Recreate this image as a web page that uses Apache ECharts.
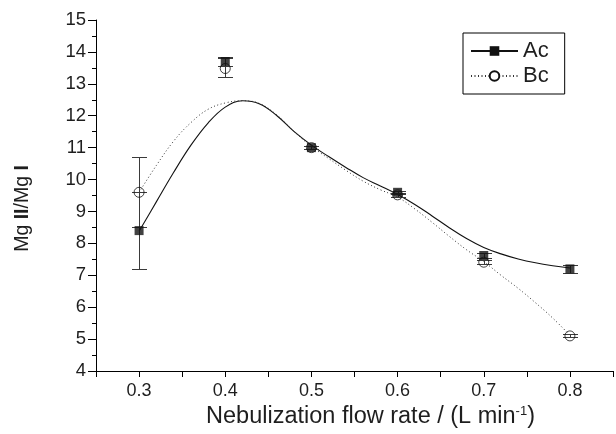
<!DOCTYPE html>
<html>
<head>
<meta charset="utf-8">
<script src="https://cdn.jsdelivr.net/npm/echarts@6/dist/echarts.min.js"></script>
<style>
html,body{margin:0;padding:0;background:#fff;}
#chart{width:616px;height:434px;}
</style>
</head>
<body>
<div id="chart"></div>
<script>
// ---- data ----
const flowRates = [0.3, 0.4, 0.5, 0.6, 0.7, 0.8];
const acValues = [8.4, 13.7, 11.0, 9.6, 7.62, 7.2];
const acLow    = [7.2, 13.55, 10.95, 9.55, 7.55, 7.07];
const acHigh   = [9.6, 13.85, 11.05, 9.65, 7.7, 7.33];
const bcValues = [9.6, 13.48, 11.0, 9.52, 7.41, 5.1];
const bcLow    = [8.5, 13.2, 10.95, 9.46, 7.34, 5.05];
const bcHigh   = [10.7, 13.8, 11.05, 9.58, 7.48, 5.15];

// fitted curves
const curveX   = [0.30, 0.32, 0.34, 0.36, 0.38, 0.40, 0.42, 0.44, 0.46, 0.48, 0.50, 0.52, 0.54, 0.56, 0.58, 0.60, 0.62, 0.64, 0.66, 0.68, 0.70, 0.72, 0.74, 0.76, 0.78, 0.80];
const acCurveY = [8.38, 9.30, 10.22, 11.07, 11.77, 12.27, 12.47, 12.37, 12.00, 11.50, 11.08, 10.72, 10.38, 10.06, 9.80, 9.53, 9.22, 8.86, 8.49, 8.15, 7.87, 7.67, 7.51, 7.39, 7.30, 7.23];
const bcCurveY = [9.60, 10.44, 11.20, 11.78, 12.20, 12.40, 12.47, 12.38, 12.02, 11.50, 11.04, 10.66, 10.29, 9.95, 9.68, 9.45, 9.08, 8.66, 8.22, 7.80, 7.43, 7.00, 6.59, 6.14, 5.66, 5.12];

const xMin = 0.25, xMax = 0.85, xStep = 0.05;
const yMin = 4, yMax = 15, yStep = 1;
const xTitle = 'Nebulization flow rate / (L min';
const yTitleParts = ['Mg ', 'II', '/Mg ', 'I'];
const seriesNames = ['Ac', 'Bc'];

// ---- build ----
const FONT = '"Liberation Sans", Arial, Helvetica, sans-serif';
const INK = '#1e1e1e';
const zip = (xs, ys) => xs.map((x, i) => [x, ys[i]]);
const errData = (lo, hi) => flowRates.map((x, i) => [x, lo[i], hi[i]]);

function errRender(params, api) {
  const x = api.value(0);
  const pLo = api.coord([x, api.value(1)]);
  const pHi = api.coord([x, api.value(2)]);
  const cx = Math.round(pLo[0]) + 0.5;
  const yl = Math.round(pLo[1]) + 0.5, yh = Math.round(pHi[1]) + 0.5;
  const hw = 7.5;
  const st = { stroke: '#3a3a3a', lineWidth: 1 };
  return {
    type: 'group',
    children: [
      { type: 'line', shape: { x1: cx, y1: yl, x2: cx, y2: yh }, style: st },
      { type: 'line', shape: { x1: cx - hw, y1: yl, x2: cx + hw, y2: yl }, style: st },
      { type: 'line', shape: { x1: cx - hw, y1: yh, x2: cx + hw, y2: yh }, style: st }
    ]
  };
}

const chart = echarts.init(document.getElementById('chart'), null, { renderer: 'canvas' });
chart.setOption({
  animation: false,
  backgroundColor: '#fff',
  textStyle: { fontFamily: FONT, color: INK },
  grid: { left: 96, top: 20, bottom: 59, right: -7, containLabel: false },
  legend: {
    data: seriesNames,
    orient: 'vertical',
    left: 463,
    top: 33,
    padding: [7, 16, 7, 7],
    itemGap: 3,
    itemWidth: 47,
    itemHeight: 12,
    borderColor: '#000',
    borderWidth: 1,
    textStyle: { fontFamily: FONT, fontSize: 22, color: INK },
    selectedMode: false
  },
  xAxis: {
    type: 'value',
    min: xMin, max: xMax, interval: xStep,
    splitLine: { show: false },
    axisLine: { lineStyle: { color: '#000', width: 1 } },
    axisTick: { show: true, inside: false, length: 6, lineStyle: { color: '#000' } },
    axisLabel: {
      fontFamily: FONT, fontSize: 18, color: INK, margin: 11,
      formatter: v => { const k = Math.round(v * 100); return k % 10 === 0 ? (k / 100).toFixed(1) : ''; }
    },
    name: '{a|' + xTitle + '}{s|-1}{a|)}',
    nameLocation: 'middle',
    nameGap: 34,
    nameTextStyle: {
      padding: [0, 0, 0, 32],
      rich: {
        a: { fontFamily: FONT, fontSize: 23.5, color: INK },
        s: { fontFamily: FONT, fontSize: 13, color: INK, verticalAlign: 'top', padding: [0, 0, 8, 0] }
      }
    }
  },
  yAxis: {
    type: 'value',
    min: yMin, max: yMax, interval: yStep,
    splitLine: { show: false },
    axisLine: { show: true, lineStyle: { color: '#000', width: 1 } },
    axisTick: { show: true, inside: false, length: 8, lineStyle: { color: '#000' } },
    minorTick: { show: true, splitNumber: 2, length: 4, lineStyle: { color: '#000' } },
    axisLabel: { fontFamily: FONT, fontSize: 18.5, color: INK, margin: 10 },
    name: '{n|' + yTitleParts[0] + '}{b|' + yTitleParts[1] + '}{n|' + yTitleParts[2] + '}{b|' + yTitleParts[3] + '}',
    nameLocation: 'middle',
    nameRotate: 90,
    nameGap: 63,
    nameTextStyle: {
      padding: [0, 26, 0, 0],
      rich: {
        n: { fontFamily: FONT, fontSize: 19.5, color: INK },
        b: { fontFamily: FONT, fontSize: 19.5, color: INK, fontWeight: 'bold' }
      }
    }
  },
  series: [
    {
      name: seriesNames[0], type: 'line', smooth: 0.4, showSymbol: false,
      symbol: 'rect', symbolSize: 9,
      data: zip(curveX, acCurveY),
      lineStyle: { color: '#111', width: 1.1, type: 'solid' },
      itemStyle: { color: '#111' },
      z: 2
    },
    {
      name: seriesNames[1], type: 'line', smooth: 0.4, showSymbol: false,
      symbol: 'emptyCircle', symbolSize: 10,
      data: zip(curveX, bcCurveY),
      lineStyle: { color: '#333', width: 1, type: [1, 2.5] },
      itemStyle: { color: '#111' },
      z: 2
    },
    {
      name: 'Bc err', type: 'custom', renderItem: errRender,
      data: errData(bcLow, bcHigh), encode: { x: 0, y: [1, 2] }, z: 3, silent: true
    },
    {
      name: 'Ac err', type: 'custom', renderItem: errRender,
      data: errData(acLow, acHigh), encode: { x: 0, y: [1, 2] }, z: 3, silent: true
    },
    {
      name: 'Bc pts', type: 'scatter', symbol: 'circle', symbolSize: 10,
      data: zip(flowRates, bcValues),
      itemStyle: { color: 'rgba(0,0,0,0)', borderColor: '#111', borderWidth: 1 },
      z: 4, silent: true
    },
    {
      name: 'Ac pts', type: 'scatter', symbol: 'rect', symbolSize: 9,
      data: zip(flowRates, acValues),
      itemStyle: { color: '#111' },
      z: 5, silent: true
    }
  ]
});
</script>
</body>
</html>
